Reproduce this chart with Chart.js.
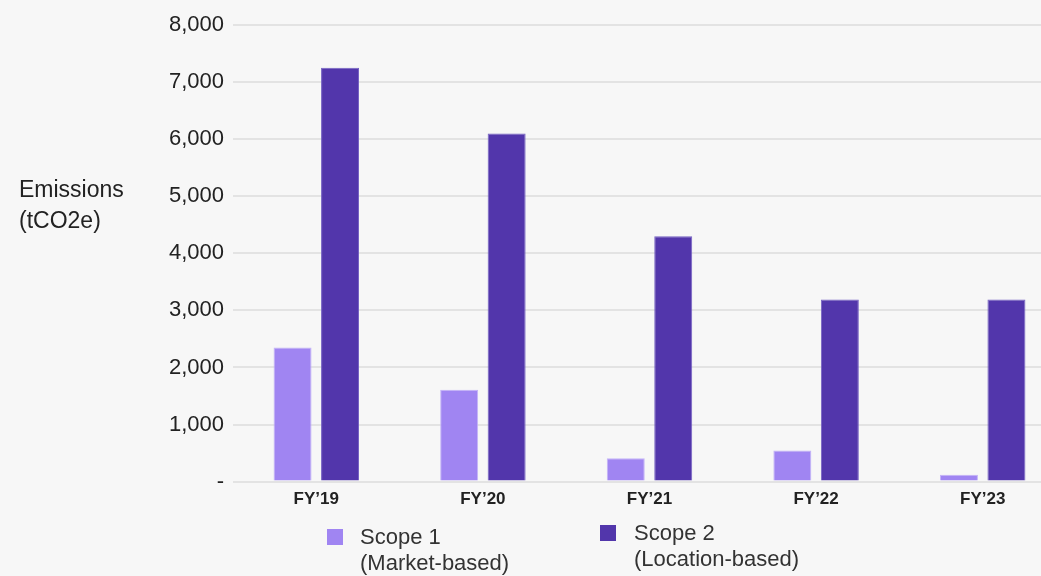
<!DOCTYPE html>
<html>
<head>
<meta charset="utf-8">
<script src="https://cdn.jsdelivr.net/npm/chart.js"></script>
<style>
  html, body { margin: 0; padding: 0; background: #f7f7f7; overflow: hidden; }
  body { width: 1041px; height: 576px; position: relative; font-family: "Liberation Sans", Arial, sans-serif; }
  #wrap { position: absolute; left: 0; top: 0; width: 1066px; height: 576px; }
  #ytitle { position: absolute; left: 19px; top: 174px; font-size: 23px; line-height: 31px; color: #222; }
  .leg { position: absolute; font-size: 22px; line-height: 26px; color: #333; }
  .leg .sw { position: absolute; width: 16px; height: 16px; }
</style>
</head>
<body>
<div id="wrap"><canvas id="chart"></canvas></div>
<div id="ytitle">Emissions<br>(tCO2e)</div>
<div id="legend"></div>
<script>
const categories = ['FY\u201919', 'FY\u201920', 'FY\u201921', 'FY\u201922', 'FY\u201923']
const scope1 = [2350, 1610, 410, 545, 120]
const scope2 = [7250, 6100, 4300, 3190, 3190]
const seriesNames = [['Scope 1', '(Market-based)'], ['Scope 2', '(Location-based)']]
const colors = ['#a085f2', '#5236ab']
const borders = ['#c3b3f8', '#7461c2']

const ctx = document.getElementById('chart')

let chart = new Chart(ctx, {
    type: 'bar',
    data: {
        labels: categories,
        datasets: [{
            label: seriesNames[0].join(' '),
            data: scope1,
            backgroundColor: colors[0],
            borderColor: borders[0],
            borderWidth: 1,
        },
        {
            label: seriesNames[1].join(' '),
            data: scope2,
            backgroundColor: colors[1],
            borderColor: borders[1],
            borderWidth: 1,
        }]
    },
    options: {
        responsive: true,
        maintainAspectRatio: false,
        animation: false,
        categoryPercentage: 0.57,
        barPercentage: 0.8,
        layout: { padding: { top: 25, bottom: 58, left: 0, right: 0 } },
        plugins: { legend: { display: false }, tooltip: { enabled: false } },
        scales: {
            x: {
                grid: { display: false, drawTicks: false },
                border: { display: false },
                ticks: { color: '#222', padding: 8, font: { family: 'Liberation Sans', size: 17, weight: 'bold' } }
            },
            y: {
                min: 0,
                max: 8000,
                afterFit: function (scale) { scale.width = 233 },
                grid: { color: '#e3e3e3', lineWidth: 2, drawTicks: false },
                border: { display: false },
                ticks: {
                    stepSize: 1000,
                    padding: 9,
                    color: '#222',
                    font: { family: 'Liberation Sans', size: 22 },
                    callback: function (v) { return v === 0 ? '-' : v.toLocaleString('en-US') }
                }
            }
        }
    }
})

// legend built from the datasets, two-line labels
const legendPos = [{ left: 327, top: 529, textLeft: 360, textTop: 524 }, { left: 600, top: 525, textLeft: 634, textTop: 520 }]
const legendEl = document.getElementById('legend')
chart.data.datasets.forEach(function (ds, i) {
    let p = legendPos[i]
    let sw = document.createElement('div')
    sw.className = 'leg'
    sw.innerHTML = '<div class="sw" style="left:' + p.left + 'px;top:' + p.top + 'px;background:' + ds.backgroundColor + '"></div>'
    legendEl.appendChild(sw)
    let t = document.createElement('div')
    t.className = 'leg'
    t.style.left = p.textLeft + 'px'
    t.style.top = p.textTop + 'px'
    t.innerHTML = seriesNames[i].join('<br>')
    legendEl.appendChild(t)
})
</script>
</body>
</html>
